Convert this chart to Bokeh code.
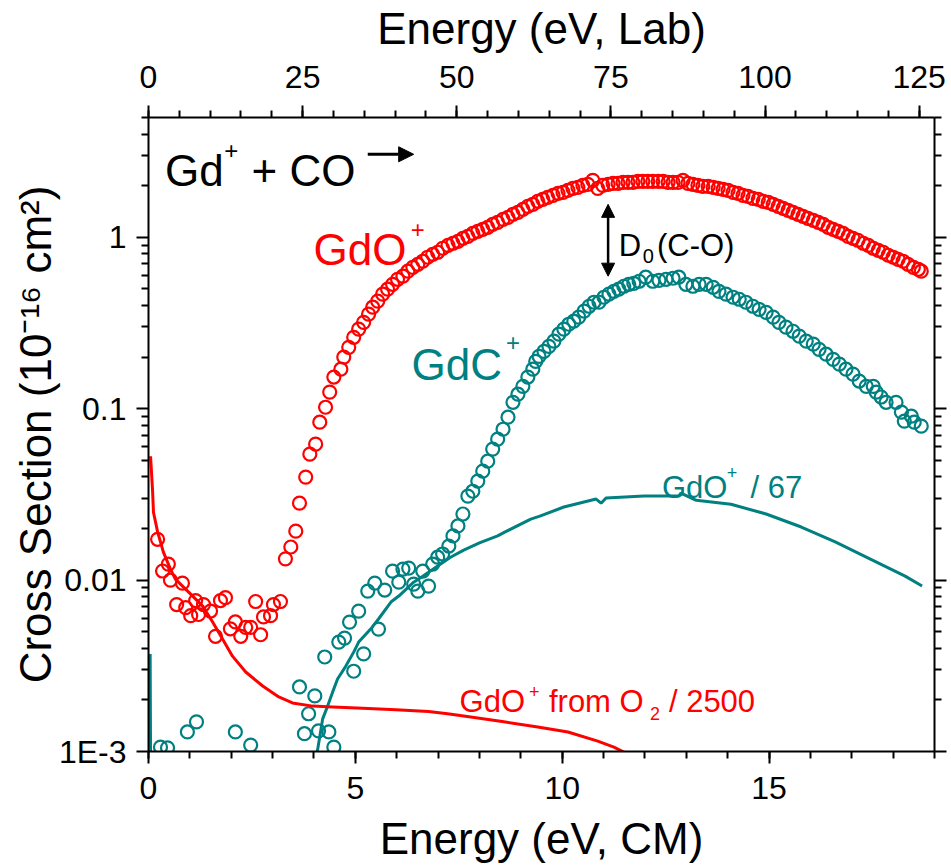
import math
from bokeh.plotting import figure
from bokeh.models import (Range1d, LinearAxis, LogAxis, FixedTicker, Label,
                          Arrow, NormalHead)
from bokeh.embed import file_html
from bokeh.resources import INLINE

RED = "#ff0000"
TEAL = "#008080"
FONT = "Liberation Sans"

# Energy conversion CM -> Lab for Gd+ + CO
LAB_PER_CM = 6.71

# GdO+ product of Gd+ + CO (CM energy in eV, cross section in 1e-16 cm^2)
gdo_e = [0.22, 0.34, 0.48, 0.53, 0.68, 0.82, 0.90, 1.02, 1.14, 1.21, 1.33, 1.50,
         1.62, 1.74, 1.86, 1.98, 2.10, 2.23, 2.35, 2.47, 2.59, 2.71, 2.78, 2.95,
         3.02, 3.19,
         3.31, 3.44, 3.56, 3.65, 3.80, 3.90, 4.04, 4.14, 4.28, 4.38, 4.48, 4.65,
         4.72, 4.84, 4.96, 5.08, 5.20, 5.32, 5.42, 5.54, 5.66, 5.78, 5.90, 6.02,
         6.15, 6.27, 6.39, 6.51, 6.63, 6.75, 6.87, 6.99, 7.11, 7.24, 7.36, 7.48,
         7.60, 7.72, 7.84, 7.96, 8.08, 8.20, 8.32, 8.44, 8.57, 8.69, 8.81, 8.93,
         9.05, 9.17, 9.29, 9.41, 9.53, 9.65, 9.78, 9.90, 10.02, 10.14, 10.26,
         10.38, 10.50, 10.62, 10.74, 10.86, 10.98, 11.11, 11.23, 11.35, 11.47,
         11.59, 11.71, 11.83, 11.95, 12.07, 12.19, 12.32, 12.44, 12.56, 12.68,
         12.80, 12.92, 13.04, 13.16, 13.28, 13.40, 13.53, 13.65, 13.77, 13.89,
         14.01, 14.13, 14.25, 14.37, 14.49, 14.61, 14.74, 14.86, 14.98, 15.10,
         15.22, 15.34, 15.46, 15.58, 15.70, 15.82, 15.94, 16.07, 16.19, 16.31,
         16.43, 16.55, 16.67, 16.79, 16.91, 17.03, 17.15, 17.28, 17.40, 17.52,
         17.64, 17.76, 17.88, 18.00, 18.12, 18.24, 18.36, 18.49, 18.61, 18.68]
gdo_s = [0.0173, 0.0113, 0.0124, 0.0100, 0.0072, 0.0096, 0.0069, 0.0062, 0.0076,
         0.0063, 0.0072, 0.0066, 0.0047, 0.0076, 0.0079, 0.0052, 0.0057, 0.0047,
         0.0053, 0.0053, 0.0075, 0.0048, 0.0061, 0.0062, 0.0072, 0.0075,
         0.0133, 0.0156, 0.0193, 0.0281, 0.0399, 0.0543, 0.0621, 0.0834, 0.102,
         0.125, 0.153, 0.170, 0.200, 0.228, 0.261, 0.291, 0.319, 0.356, 0.391,
         0.424, 0.466, 0.498, 0.532, 0.569, 0.593, 0.634, 0.668, 0.696, 0.725,
         0.765, 0.796, 0.818, 0.863, 0.898, 0.923, 0.948, 0.987, 1.013, 1.055,
         1.084, 1.113, 1.144, 1.191, 1.223, 1.273, 1.308, 1.362, 1.399, 1.456,
         1.516, 1.557, 1.622, 1.666, 1.711, 1.758, 1.806, 1.830, 1.880, 1.931,
         1.957, 2.010, 2.037, 2.149, 1.931, 2.010, 2.037, 2.064, 2.064, 2.093,
         2.093, 2.093, 2.121, 2.121, 2.121, 2.121, 2.121, 2.121, 2.093, 2.093,
         2.093, 2.149, 2.064, 2.037, 2.010, 1.983, 1.983, 1.957, 1.931, 1.905,
         1.880, 1.830, 1.806, 1.758, 1.734, 1.688, 1.666, 1.622, 1.600, 1.557,
         1.516, 1.476, 1.437, 1.399, 1.362, 1.326, 1.291, 1.256, 1.223, 1.191,
         1.144, 1.113, 1.084, 1.055, 1.013, 0.987, 0.961, 0.923, 0.898, 0.863,
         0.840, 0.818, 0.786, 0.765, 0.744, 0.725, 0.696, 0.668, 0.651, 0.634]

# GdC+ product of Gd+ + CO
gdc_e = [0.29, 0.46, 0.94, 1.16, 2.10, 2.47, 3.65, 3.77, 3.87, 4.02, 4.11, 4.26,
         4.36, 4.48, 4.60, 4.74, 4.86, 4.96, 5.08, 5.20, 5.30, 5.47, 5.56, 5.71,
         5.90, 6.05, 6.15, 6.29, 6.41, 6.51, 6.63, 6.77, 6.87, 6.99, 7.11, 7.26,
         7.36, 7.48, 7.60, 7.72, 7.84, 7.96, 8.08, 8.20, 8.32, 8.44, 8.57, 8.69,
         8.81, 8.93, 9.05, 9.17, 9.29, 9.36, 9.44, 9.56, 9.68, 9.80, 9.92, 10.04,
         10.16, 10.28, 10.40, 10.53, 10.65, 10.77, 10.89, 11.01, 11.13, 11.25,
         11.37, 11.49, 11.61, 11.73, 11.86, 12.02, 12.19, 12.34, 12.51, 12.68,
         12.82, 12.99, 13.16, 13.31, 13.48, 13.65, 13.79, 13.96, 14.13, 14.28,
         14.44, 14.61, 14.76, 14.93, 15.10, 15.24, 15.41, 15.58, 15.73, 15.90,
         16.07, 16.21, 16.38, 16.55, 16.70, 16.86, 17.03, 17.18, 17.35, 17.52,
         17.59, 17.71, 17.83, 18.07, 18.20, 18.27, 18.44, 18.51, 18.68]
gdc_s = [0.00106, 0.00105, 0.00130, 0.00149, 0.00130, 0.00109, 0.00238, 0.00127,
         0.00166, 0.00211, 0.00132, 0.00356, 0.00130, 0.00106, 0.00435, 0.00459,
         0.00569, 0.00294, 0.00659, 0.00371, 0.00863, 0.00961, 0.00518, 0.00875,
         0.01128, 0.00973, 0.01159, 0.01175, 0.00948, 0.00863, 0.01128, 0.00923,
         0.0124, 0.0136, 0.0142, 0.0158, 0.0181, 0.0207, 0.0243, 0.0309, 0.0330,
         0.0378, 0.0432, 0.0494, 0.0581, 0.0664, 0.0759, 0.0892, 0.109, 0.1215,
         0.135, 0.153, 0.170, 0.189, 0.202, 0.216, 0.231, 0.248, 0.272, 0.291,
         0.311, 0.324, 0.342, 0.371, 0.396, 0.418, 0.418, 0.447, 0.466, 0.484,
         0.498, 0.518, 0.532, 0.539, 0.554, 0.585, 0.554, 0.561, 0.569, 0.577,
         0.585, 0.532, 0.518, 0.532, 0.532, 0.511, 0.484, 0.466, 0.447, 0.435,
         0.418, 0.396, 0.380, 0.365, 0.342, 0.319, 0.299, 0.283, 0.265, 0.248,
         0.238, 0.222, 0.208, 0.194, 0.182, 0.170, 0.159, 0.145, 0.135, 0.135,
         0.125, 0.117, 0.109, 0.109, 0.0955, 0.0846, 0.0904, 0.0834, 0.0791]

# GdO+ from Gd+ + CO, scaled by 1/67 (dense trace)
gdo67_e = [0.04, 0.06, 2.00, 3.30, 3.90, 4.02, 4.09, 4.21, 4.33, 4.45, 4.57,
           4.77, 4.96, 5.08, 5.37, 5.56, 5.86, 6.05, 6.41, 6.63, 6.99, 7.30,
           7.62, 8.00, 8.44, 8.61, 9.24, 9.46, 10.04, 10.31, 10.82, 10.94,
           11.06, 11.98, 12.82, 12.87, 13.24, 14.08, 14.93, 15.78, 16.60,
           17.45, 18.29, 18.70]
gdo67_s = [0.0037, 0.00025, 0.0001, 0.0002, 0.0008, 0.00091, 0.00103, 0.00155,
           0.00184, 0.00222, 0.00265, 0.00315, 0.00380, 0.00435, 0.00518,
           0.00593, 0.00745, 0.00807, 0.00973, 0.01054, 0.01207, 0.0136,
           0.01496, 0.0165, 0.0181, 0.01905, 0.0227, 0.0236, 0.0267, 0.0277,
           0.0297, 0.0281, 0.0301, 0.0309, 0.0309, 0.0322, 0.0292, 0.0277,
           0.0243, 0.0204, 0.0167, 0.01325, 0.01055, 0.00923]

# GdO+ from Gd+ + O2, scaled by 1/2500
gdo_o2_e = [0.05, 0.10, 0.12, 0.22, 0.36, 0.53, 0.65, 0.97, 1.31, 1.55, 1.79,
            2.03, 2.35, 2.76, 3.15, 3.48, 3.97, 4.45, 5.18, 5.98, 6.77, 7.23,
            7.79, 8.59, 9.41, 10.14, 10.86, 11.25, 11.49, 11.71]
gdo_o2_s = [0.0528, 0.0326, 0.0249, 0.0191, 0.01457, 0.01159, 0.01014, 0.00851,
            0.00705, 0.00569, 0.00453, 0.00360, 0.00291, 0.00241, 0.00208,
            0.00192, 0.00184, 0.00182, 0.00179, 0.00175, 0.00171, 0.00166,
            0.00159, 0.00149, 0.00139, 0.00130, 0.00115, 0.00106, 0.000993,
            0.00090]

x_ticks = [0, 5, 10, 15]
lab_ticks = [0, 25, 50, 75, 100, 125]
y_ticks = [1e-3, 1e-2, 1e-1, 1.0]
y_tick_labels = ["1E-3", "0.01", "0.1", "1"]

X_MAX = 19.0
Y_MIN, Y_MAX = 1e-3, 5.0

p = figure(width=951, height=865, y_axis_type="log",
           x_range=Range1d(0, X_MAX), y_range=Range1d(Y_MIN, Y_MAX),
           output_backend="svg", toolbar_location=None,
           min_border_left=148, min_border_right=17,
           min_border_top=117, min_border_bottom=112)
p.grid.visible = False
p.outline_line_color = None
p.background_fill_color = "white"
p.border_fill_color = "white"
p.extra_x_ranges = {"lab": Range1d(0, X_MAX * LAB_PER_CM)}

x_ticker = FixedTicker(ticks=x_ticks, minor_ticks=list(range(0, 20)))
lab_ticker = FixedTicker(ticks=lab_ticks, minor_ticks=list(range(0, 130, 5)))
y_ticker = FixedTicker(ticks=y_ticks,
                       minor_ticks=[m * 10.0 ** k for k in range(-3, 1)
                                    for m in range(2, 10)])


def style_axis(ax, labels=True):
    ax.axis_line_width = 2
    ax.axis_line_color = "black"
    ax.major_tick_line_width = 2
    ax.minor_tick_line_width = 2
    ax.major_tick_line_color = "black"
    ax.minor_tick_line_color = "black"
    ax.major_tick_out = 12
    ax.major_tick_in = 0
    ax.minor_tick_out = 7
    ax.minor_tick_in = 0
    ax.major_label_text_font = FONT
    ax.major_label_text_font_size = "32px" if labels else "0px"
    ax.major_label_text_color = "black"
    ax.axis_label_text_font = FONT
    ax.axis_label_text_font_size = "44px"
    ax.axis_label_text_font_style = "normal"
    ax.axis_label_text_color = "black"


bottom = p.below[0]
bottom.ticker = x_ticker
bottom.axis_label = "Energy (eV, CM)"
style_axis(bottom)
bottom.major_label_standoff = 13
bottom.axis_label_standoff = 12

top = LinearAxis(x_range_name="lab", ticker=lab_ticker,
                 axis_label="Energy (eV, Lab)")
style_axis(top)
top.major_label_standoff = 18
top.axis_label_standoff = 10
p.add_layout(top, "above")

left = p.left[0]
left.ticker = y_ticker
left.major_label_overrides = dict(zip(y_ticks, y_tick_labels))
left.axis_label = "Cross Section (10\u207b\u00b9\u2076 cm\u00b2)"
style_axis(left)
left.major_label_standoff = 10
left.axis_label_standoff = -4

right = LogAxis(ticker=y_ticker)
style_axis(right, labels=False)
right.major_label_overrides = {t: "" for t in y_ticks}
p.add_layout(right, "right")

# data: open circles, then the scaled reference traces on top
p.scatter(gdo_e, gdo_s, marker="circle", size=13, line_color=RED,
          line_width=2.2, fill_color=None)
p.scatter(gdc_e, gdc_s, marker="circle", size=13, line_color=TEAL,
          line_width=2.2, fill_color=None)
p.line(gdo67_e, gdo67_s, line_color=TEAL, line_width=3)
p.line(gdo_o2_e, gdo_o2_s, line_color=RED, line_width=3)


def put(text, x, y, size, color="black"):
    p.add_layout(Label(x=x, y=y, text=text, text_font=FONT,
                       text_font_size=f"{size}px", text_color=color,
                       text_align="left", text_baseline="alphabetic"))


# reaction label
put("Gd", 0.40, 2.459, 44)
put("+", 1.83, 3.22, 24)
put("+ CO", 2.49, 2.459, 44)
p.add_layout(Arrow(x_start=5.30, y_start=3.05, x_end=6.41, y_end=3.05,
                   line_width=3, line_color="black",
                   end=NormalHead(size=15, fill_color="black",
                                  line_color="black")))

# product labels
put("GdO", 3.99, 0.851, 44, RED)
put("+", 6.34, 1.113, 24, RED)
put("GdC", 6.36, 0.1817, 44, TEAL)
put("+", 8.64, 0.244, 24, TEAL)

# bond energy marker
p.add_layout(Arrow(x_start=11.11, y_start=0.593, x_end=11.11, y_end=1.557,
                   line_width=2.5, line_color="black",
                   start=NormalHead(size=13, fill_color="black",
                                    line_color="black"),
                   end=NormalHead(size=13, fill_color="black",
                                  line_color="black")))
put("D", 11.37, 0.898, 31)
put("0", 11.95, 0.775, 20)
put("(C-O)", 12.29, 0.898, 31)

put("GdO", 12.41, 0.0348, 31, TEAL)
put("+", 13.98, 0.0426, 18, TEAL)
put("/ 67", 14.55, 0.0348, 31, TEAL)

put("GdO", 7.52, 0.001945, 31, RED)
put("+", 9.20, 0.002254, 18, RED)
put("from O", 9.68, 0.001945, 31, RED)
put("2", 12.12, 0.001655, 18, RED)
put("/ 2500", 12.58, 0.001945, 31, RED)

open("out.html", "w").write(file_html(p, INLINE))
